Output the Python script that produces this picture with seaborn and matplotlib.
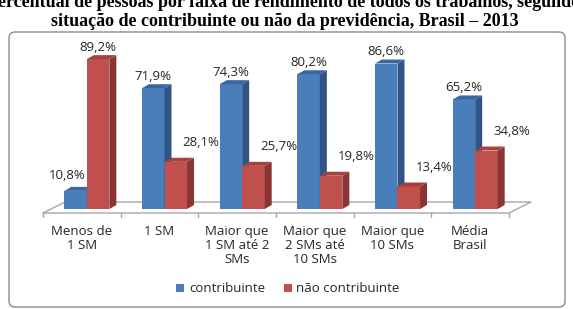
import numpy as np
import pandas as pd
import matplotlib
matplotlib.use("Agg")
import matplotlib.pyplot as plt
import seaborn as sns
from matplotlib.patches import Polygon, FancyBboxPatch, Patch
from matplotlib.lines import Line2D
from matplotlib.transforms import IdentityTransform, ScaledTranslation, blended_transform_factory

# data
categories = ["Menos de\n1 SM", "1 SM", "Maior que\n1 SM até 2\nSMs",
              "Maior que\n2 SMs até\n10 SMs", "Maior que\n10 SMs", "Média\nBrasil"]
contribuinte = [10.8, 71.9, 74.3, 80.2, 86.6, 65.2]
nao_contribuinte = [89.2, 28.1, 25.7, 19.8, 13.4, 34.8]
series = ["contribuinte", "não contribuinte"]

title_1 = "Percentual de pessoas por faixa de rendimento de todos os trabalhos, segundo a"
title_2 = "situação de contribuinte ou não da previdência, Brasil – 2013"

df = pd.DataFrame({
    "faixa": categories * 2,
    "valor": contribuinte + nao_contribuinte,
    "situacao": [series[0]] * len(categories) + [series[1]] * len(categories),
})

W, H, DPI = 573, 309, 100
front_cols = ["#4A7EBB", "#C0504D"]
side_cols = ["#2F5485", "#8A3533"]
top_cols = ["#3A67A3", "#A8403D"]
floor_col = "#A6A6A6"
text_col = "#262626"
fsize = 9.5

sns.set_style("white")
plt.rcParams["font.family"] = ["Open Sans", "DejaVu Sans"]

fig = plt.figure(figsize=(W / DPI, H / DPI), dpi=DPI)

# axes: x from -0.5..5.5 spans px 43..509, value 0 at px 209, 100 at px 41
ax = fig.add_axes([43 / W, 1 - 209 / H, 466 / W, 168 / H])
sns.barplot(data=df, x="faixa", y="valor", hue="situacao", order=categories,
            hue_order=series, palette=front_cols, width=0.58, saturation=1,
            ax=ax, legend=False)
ax.set_xlim(-0.5, 5.5)
ax.set_ylim(0, 100)
ax.axis("off")

to_disp = ax.transData.transform
shift = 5          # bars sit a bit right of the category centre (3D view)
dx, dy = 7, 4      # bar depth in pixels
ident = IdentityTransform()

values = [contribuinte, nao_contribuinte]
for k, cont in enumerate(ax.containers):
    for i, bar in enumerate(cont):
        bar.set_transform(ax.transData + ScaledTranslation(shift / DPI, 0, fig.dpi_scale_trans))
        bar.set_zorder(2 + k)
        bar.set_clip_on(False)
        bar.set_edgecolor("none")
        x0, y0 = to_disp((bar.get_x(), 0))
        x1, y1 = to_disp((bar.get_x() + bar.get_width(), bar.get_height()))
        x0 += shift
        x1 += shift
        side = [(x1, y0), (x1 + dx, y0 + dy), (x1 + dx, y1 + dy), (x1, y1)]
        top = [(x0, y1), (x1, y1), (x1 + dx, y1 + dy), (x0 + dx, y1 + dy)]
        for pts, col in [(side, side_cols[k]), (top, top_cols[k])]:
            ax.add_patch(Polygon(pts, closed=True, transform=ident, facecolor=col,
                                 edgecolor="none", zorder=2.1 + k, clip_on=False))

        # data labels
        other = values[1 - k][i]
        h = bar.get_height()
        if h >= other:
            ox, oy = 0, 12
        elif k == 0:
            ox, oy = -8, 15
        else:
            ox, oy = 25, 19
        ax.annotate(f"{h:.1f}%".replace(".", ","),
                    xy=(bar.get_x() + bar.get_width() / 2, h),
                    xytext=(shift + ox, oy), textcoords="offset pixels",
                    ha="center", va="center", fontsize=fsize, color=text_col,
                    annotation_clip=False, zorder=5)

# 3D floor
xl, _ = to_disp((-0.5, 0))
xr, yb = to_disp((5.5, 0))
fy = yb - 4
bdx, bdy = 22, 11
floor = [(xl, fy), (xr, fy), (xr + bdx, fy + bdy), (xl + bdx, fy + bdy), (xl, fy)]
fx, fyy = zip(*floor)
ax.add_line(Line2D(fx, fyy, transform=ident, color=floor_col, lw=1, zorder=1, clip_on=False))
for b in np.arange(-0.5, len(categories), 1.0):
    tx, _ = to_disp((b, 0))
    ax.add_line(Line2D([tx, tx], [fy, fy - 4], transform=ident, color=floor_col,
                       lw=1, zorder=1, clip_on=False))

# category labels
lab_tr = blended_transform_factory(ax.transData, fig.transFigure)
for i, lab in enumerate(categories):
    ax.text(i, 1 - 225 / H, lab, transform=lab_tr, ha="center", va="top",
            fontsize=fsize, color=text_col, linespacing=1.12)

# legend
handles = [Patch(facecolor=c, edgecolor="none") for c in front_cols]
fig.legend(handles, series, loc="center", bbox_to_anchor=(288 / W, 1 - 289 / H),
           ncol=2, frameon=False, fontsize=fsize, handlelength=0.6, handleheight=0.6,
           handletextpad=0.35, columnspacing=1.4, labelcolor=text_col)

# chart border
fig.patches.append(FancyBboxPatch((9, H - 307), 556, 275, boxstyle="round,pad=0,rounding_size=6",
                                  transform=ident, facecolor="none", edgecolor="#8C8C8C",
                                  lw=1, zorder=0))

# title (first line is cut at the picture edges, as in the reference)
fig.text(290 / W, 1 - 7 / H, title_1, ha="center", va="baseline", fontsize=13,
         fontweight="bold", family="Liberation Serif", color="black")
fig.text(285 / W, 1 - 26 / H, title_2, ha="center", va="baseline", fontsize=13,
         fontweight="bold", family="Liberation Serif", color="black")

fig.savefig("out.png", dpi=DPI)
